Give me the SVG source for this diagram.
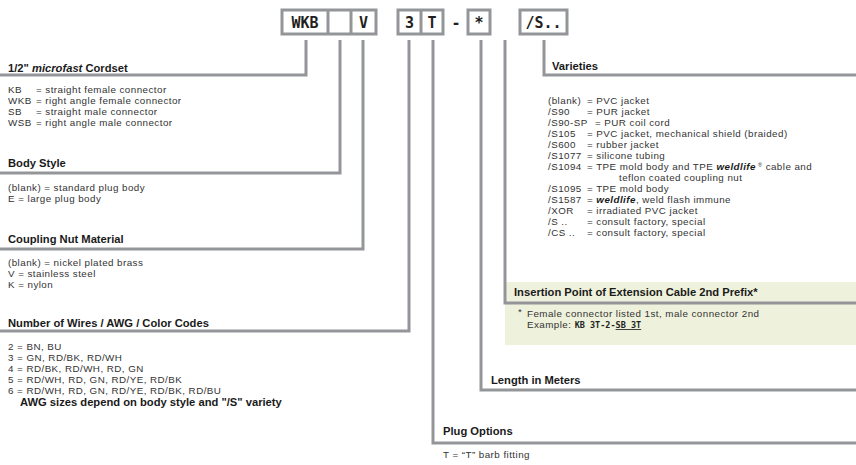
<svg xmlns="http://www.w3.org/2000/svg" width="856" height="465" viewBox="0 0 856 465">
<style>
text{font-family:"Liberation Sans",Arial,sans-serif;font-size:9.8px;letter-spacing:0.45px;fill:#333;}
.h{font-weight:bold;font-size:11.2px;letter-spacing:0;fill:#1a1a1a;}
.code{font-family:"DejaVu Sans Mono","Liberation Mono",monospace;font-weight:bold;font-size:15px;letter-spacing:0;fill:#231f20;}
.box{fill:none;stroke:#939598;stroke-width:3;}
.ln{fill:none;stroke:#939598;stroke-width:3;}
.mono{font-family:"DejaVu Sans Mono","Liberation Mono",monospace;font-weight:bold;font-size:8.5px;letter-spacing:0;fill:#231f20;}
</style>
<rect width="856" height="465" fill="#fff"/>

<g id="code">
  <rect class="box" x="282" y="10" width="94" height="24"/>
  <line class="box" x1="328" y1="10" x2="328" y2="34"/>
  <line class="box" x1="351" y1="10" x2="351" y2="34"/>
  <rect class="box" x="398" y="10" width="45" height="24"/>
  <line class="box" x1="421" y1="10" x2="421" y2="34"/>
  <rect class="box" x="468" y="10" width="22" height="24"/>
  <rect class="box" x="520" y="10" width="47" height="24"/>
  <text class="code" x="305" y="27.5" text-anchor="middle">WKB</text>
  <text class="code" x="363.5" y="27.5" text-anchor="middle">V</text>
  <text class="code" x="409.5" y="27.5" text-anchor="middle">3</text>
  <text class="code" x="432" y="27.5" text-anchor="middle">T</text>
  <text class="code" x="456" y="27.5" text-anchor="middle">-</text>
  <text class="code" x="479" y="27.5" text-anchor="middle">*</text>
  <text class="code" x="543.5" y="27.5" text-anchor="middle">/S..</text>
</g>

<g id="connectors">
  <polyline class="ln" points="306,40 306,75 0,75"/>
  <polyline class="ln" points="340,40 340,173 0,173"/>
  <polyline class="ln" points="363,40 363,249 0,249"/>
  <polyline class="ln" points="409,40 409,331 0,331"/>
  <polyline class="ln" points="433,40 433,443 856,443"/>
  <polyline class="ln" points="481,40 481,390 856,390"/>
  <polyline class="ln" points="544,40 544,75 856,75"/>
</g>

<g id="insertion">
  <rect x="505" y="282" width="351" height="63" fill="#eef1dc"/>
  <polyline class="ln" points="505,40 505,303 856,303"/>
  <text class="h" x="514" y="296">Insertion Point of Extension Cable 2nd Prefix*</text>
  <text x="518" y="315" font-size="7">*</text>
  <text x="527" y="317">Female connector listed 1st, male connector 2nd</text>
  <text x="527" y="328">Example: <tspan class="mono">KB 3T-2-</tspan><tspan class="mono" text-decoration="underline">SB 3T</tspan></text>
</g>

<g id="cordset">
  <text class="h" x="8" y="72">1/2" <tspan font-style="italic">microfast</tspan> Cordset</text>
  <text x="8" y="93">KB</text><text x="36" y="93">= straight female connector</text>
  <text x="8" y="104">WKB</text><text x="36" y="104">= right angle female connector</text>
  <text x="8" y="115">SB</text><text x="36" y="115">= straight male connector</text>
  <text x="8" y="126">WSB</text><text x="36" y="126">= right angle male connector</text>
</g>

<g id="body-style">
  <text class="h" x="8" y="167">Body Style</text>
  <text x="8" y="191">(blank) = standard plug body</text>
  <text x="8" y="202">E = large plug body</text>
</g>

<g id="coupling-nut">
  <text class="h" x="8" y="243">Coupling Nut Material</text>
  <text x="8" y="266">(blank) = nickel plated brass</text>
  <text x="8" y="277">V = stainless steel</text>
  <text x="8" y="288">K = nylon</text>
</g>

<g id="wires">
  <text class="h" x="8" y="327">Number of Wires / AWG / Color Codes</text>
  <text x="8" y="350">2 = BN, BU</text>
  <text x="8" y="361">3 = GN, RD/BK, RD/WH</text>
  <text x="8" y="372">4 = RD/BK, RD/WH, RD, GN</text>
  <text x="8" y="383">5 = RD/WH, RD, GN, RD/YE, RD/BK</text>
  <text x="8" y="394">6 = RD/WH, RD, GN, RD/YE, RD/BK, RD/BU</text>
  <text class="h" x="20" y="405.5">AWG sizes depend on body style and "/S" variety</text>
</g>

<g id="plug-options">
  <text class="h" x="443" y="435">Plug Options</text>
  <text x="443" y="458">T = “T” barb fitting</text>
</g>

<g id="length">
  <text class="h" x="491" y="384">Length in Meters</text>
</g>

<g id="varieties">
  <text class="h" x="552" y="70">Varieties</text>
  <text x="548" y="104">(blank)</text><text x="587" y="104">= PVC jacket</text>
  <text x="548" y="115">/S90</text><text x="587" y="115">= PUR jacket</text>
  <text x="548" y="126">/S90-SP</text><text x="595" y="126">= PUR coil cord</text>
  <text x="548" y="137">/S105</text><text x="587" y="137">= PVC jacket, mechanical shield (braided)</text>
  <text x="548" y="148">/S600</text><text x="587" y="148">= rubber jacket</text>
  <text x="548" y="159">/S1077</text><text x="587" y="159">= silicone tubing</text>
  <text x="548" y="170">/S1094</text><text x="587" y="170">= TPE mold body and TPE <tspan font-weight="bold" font-style="italic" fill="#1a1a1a">weldlife</tspan><tspan font-size="5.5" dy="-3.5"> ®</tspan><tspan dy="3.5"> cable and</tspan></text>
  <text x="619" y="181">teflon coated coupling nut</text>
  <text x="548" y="192">/S1095</text><text x="587" y="192">= TPE mold body</text>
  <text x="548" y="203">/S1587</text><text x="587" y="203">= <tspan font-weight="bold" font-style="italic" fill="#1a1a1a">weldlife</tspan>, weld flash immune</text>
  <text x="548" y="214">/XOR</text><text x="587" y="214">= irradiated PVC jacket</text>
  <text x="548" y="225">/S ..</text><text x="587" y="225">= consult factory, special</text>
  <text x="548" y="236">/CS ..</text><text x="587" y="236">= consult factory, special</text>
</g>
</svg>
